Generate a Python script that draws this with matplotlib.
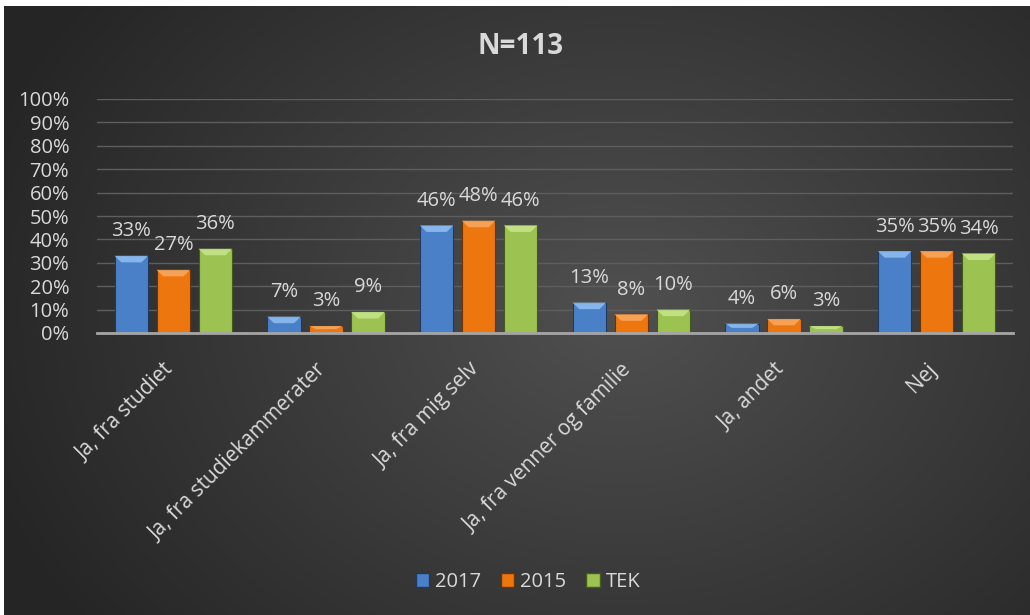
import numpy as np
import matplotlib
matplotlib.use("Agg")
import matplotlib.pyplot as plt
from matplotlib.patches import Polygon, Patch
from matplotlib.ticker import FuncFormatter, MultipleLocator
from matplotlib.transforms import ScaledTranslation

categories = ["Ja, fra studiet", "Ja, fra studiekammerater", "Ja, fra mig selv",
              "Ja, fra venner og familie", "Ja, andet", "Nej"]
series_names = ["2017", "2015", "TEK"]
v2017 = [0.33, 0.07, 0.46, 0.13, 0.04, 0.35]
v2015 = [0.27, 0.03, 0.48, 0.08, 0.06, 0.35]
vtek = [0.36, 0.09, 0.46, 0.10, 0.03, 0.34]
title = "N=113"

colors = ["#4a80c8", "#ee760f", "#9cc251"]
light = ["#8dbcef", "#f8a75e", "#c6e48a"]
edges = ["#1f3a5e", "#6b3405", "#455a20"]
txt = "#d9d9d9"

plt.rcParams['font.family'] = ['Open Sans', 'DejaVu Sans']

W, H = 1030, 615
fig = plt.figure(figsize=(W / 100, H / 100), dpi=100)
fig.patch.set_facecolor("white")

# background radial gradient
bg = fig.add_axes([4 / W, 0, 1 - 4 / W, 1 - 6 / H])
bg.set_axis_off()
yy, xx = np.mgrid[0:300, 0:500]
cx, cy = 300, 150
r = np.sqrt(((xx - cx) / 330.0) ** 2 + ((yy - cy) / 260.0) ** 2)
r = np.clip(r, 0, 1)
c0, c1 = 0x50, 0x25
g = (c0 + (c1 - c0) * r) / 255.0
img = np.dstack([g, g, g])
bg.imshow(img, aspect="auto", extent=[0, 1, 0, 1], interpolation="bilinear")
bg.set_xlim(0, 1)
bg.set_ylim(0, 1)

ax = fig.add_axes([97 / W, 1 - 333 / H, (1013 - 97) / W, (333 - 99) / H])
ax.set_facecolor("none")
x = np.arange(len(categories))
width = 0.22
step = 0.275
data = [v2017, v2015, vtek]
for i, vals in enumerate(data):
    xs = x + (i - 1) * step
    ax.bar(xs, vals, width=width, color=colors[i], edgecolor=edges[i], linewidth=0.8, zorder=3)
    for xi, v in zip(xs, vals):
        bh = min(0.028, v * 0.45)
        bw = width * 0.2
        poly = Polygon([[xi - width / 2, v], [xi + width / 2, v],
                        [xi + width / 2 - bw, v - bh], [xi - width / 2 + bw, v - bh]],
                       closed=True, facecolor=light[i], edgecolor="none", alpha=0.9, zorder=4)
        ax.add_patch(poly)
        ax.text(xi, v + 0.105, f"{round(v * 100):.0f}%", ha="center", va="center",
                color=txt, fontsize=14.5, zorder=5)

ax.set_xlim(-0.5, len(categories) - 0.5)
ax.set_ylim(0, 1.0)
ax.yaxis.set_major_locator(MultipleLocator(0.1))
ax.yaxis.set_major_formatter(FuncFormatter(lambda v, p: f"{v * 100:.0f}%"))
ax.grid(axis="y", color="#5e5e5e", linewidth=1.0, zorder=0)
ax.set_axisbelow(True)
for s in ["top", "right", "left"]:
    ax.spines[s].set_visible(False)
ax.spines["bottom"].set_color("#a6a6a6")
ax.spines["bottom"].set_linewidth(2)
ax.spines["bottom"].set_zorder(6)
ax.tick_params(axis="y", length=0, colors=txt, labelsize=14.5, pad=20)
ax.tick_params(axis="x", length=0, colors=txt, labelsize=15, pad=19)
ax.set_xticks(x)
ax.set_xticklabels(categories, rotation=45, ha="right", va="top", rotation_mode="anchor")
shift = ScaledTranslation(-10 / 100, 0, fig.dpi_scale_trans)
for lbl in ax.get_xticklabels():
    lbl.set_color(txt)
    lbl.set_transform(lbl.get_transform() + shift)

fig.text(521 / W, 1 - 47 / H, title, ha="center", va="center", color=txt,
         fontsize=20, fontweight="bold")

handles = [Patch(facecolor=colors[i], edgecolor=edges[i]) for i in range(3)]
leg = fig.legend(handles, series_names, loc="center", bbox_to_anchor=(528 / W, 1 - 582 / H),
                 ncol=3, frameon=False, fontsize=14.5, handlelength=0.65, handleheight=0.65,
                 handletextpad=0.3, columnspacing=1.0)
for t in leg.get_texts():
    t.set_color(txt)

fig.savefig("out.png", dpi=100, facecolor=fig.get_facecolor())
